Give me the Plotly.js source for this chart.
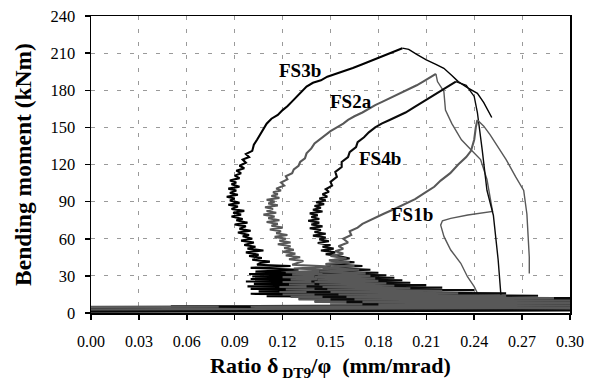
<!DOCTYPE html>
<html>
<head>
<meta charset="utf-8">
<script src="https://cdn.plot.ly/plotly-3.0.1.min.js"></script>
<style>html,body{margin:0;padding:0;background:#fff;}#chart{width:589px;height:391px;}</style>
</head>
<body>
<div id="chart"></div>
<script>
// ---- Data ----
const xTicks = [0.00,0.03,0.06,0.09,0.12,0.15,0.18,0.21,0.24,0.27,0.30];
const yTicks = [0,30,60,90,120,150,180,210,240];

const seriesNames = ["FS3b","FS2a","FS4b","FS1b"];

const fs3bX = [0.000,0.300,0.000,0.300,0.050,0.300,0.160,0.300,0.140,0.300,0.130,0.240,0.110,0.220,0.100,0.200,0.105,0.190,0.100,0.180,0.098,0.170,0.102,0.165,0.097,0.155,0.100,0.150,0.101,0.145,0.099,0.138,0.103,0.130,0.100,0.125,0.104,
  0.106,0.112,0.101,0.107,0.099,0.105,0.097,0.108,0.098,0.103,0.096,0.102,0.094,0.101,0.095,0.099,0.092,0.100,0.093,0.097,0.090,0.098,0.091,0.095,0.088,0.094,0.089,0.096,0.088,0.092,0.086,0.093,0.087,0.090,0.085,0.092,0.087,0.091,0.086,0.093,0.088,0.091,0.087,0.093,0.090,0.094,0.091,0.096,0.093,0.097,0.095,0.099,0.097,
  0.101,0.102,0.104,0.107,0.110,0.113,0.117,0.120,0.123,0.126,0.129,0.132,0.135,0.139,0.144,0.148,0.153,0.158,0.164,0.170,0.176,0.183,0.189,0.195,
  0.199,0.204,0.210,0.216,0.221,0.226,0.230,0.236,0.242,0.246,0.249,0.251];
const fs3bY = [1.5,2.5,3.5,4.5,5.5,6.5,7.5,8.5,9.5,10.5,11.5,12.5,13.5,14.5,15.5,16.5,17.5,18.5,19.5,20.5,21.5,22.5,23.5,24.5,25.5,26.5,27.5,28.5,29.5,30.5,31.5,32.5,33.5,35,36.5,38,39,
  40.4,41.5,43,44.5,46,47,49,50.5,52,53.5,55,57,58.5,60,62,63,65,66.5,68,70,71.5,73,75,76,78,79.5,81,82.5,84,86,87.5,89,91,92.5,94,95.5,97,99,100.5,102,104,105.5,107,109,111,113,115,117,119,121.5,124,126,128.5,
  131,136,140,146,153,157,160,164,167,171,175,179,183,186,188,191,193,195,198,201,204,208,211,214,
  213,209,204.5,201,197.7,192,187,182,177.5,170,163,158];

const fs2aX = [0.000,0.300,0.000,0.107,0.300,0.150,0.300,0.140,0.300,0.130,0.270,0.125,0.240,0.120,0.230,0.118,0.210,0.122,0.200,0.118,0.190,0.124,0.185,0.120,0.178,0.125,0.170,0.120,0.165,0.126,0.160,0.122,0.155,0.127,0.150,0.126,
  0.133,0.124,0.131,0.122,0.128,0.120,0.127,0.121,0.125,0.117,0.125,0.118,0.122,0.115,0.123,0.116,0.119,0.112,0.120,0.113,0.117,0.110,0.118,0.111,0.115,0.108,0.116,0.110,0.114,0.109,0.117,0.111,0.115,0.110,0.118,0.113,0.117,0.114,0.119,0.116,0.121,0.119,0.123,0.122,0.126,
  0.127,0.130,0.131,0.134,0.135,0.138,0.140,0.144,0.147,0.150,0.154,0.158,0.161,0.165,0.170,0.174,0.178,0.183,0.188,0.194,0.199,0.204,0.208,0.212,0.214,0.216,
  0.217,0.221,0.222,0.226,0.232,0.238,0.244,0.248,0.2515,0.236,0.2253,0.2201,0.219,0.2211,0.2253,0.2316,0.2358,0.2400,0.2431,0.2450];
const fs2aY = [2,3,5,5.2,6,7,8,9,10,11,12,13,14,15,16,17,18,19,20,21,22,23,24,25,26,27,28,29,30,31,32,33,34.5,36,37.5,39,
  42,43.5,45,46.5,48,49.5,51,52.5,54,55.5,57,58.5,60,61.5,63,64.5,66,67.5,69,70.5,72,73.5,75,76.5,78,79.5,81,82.5,84,85.5,87,88.5,90,91.5,93,94.5,96,97.5,99,100.5,103,105.5,108,110.5,113,
  116,119,122,125,129,133,137,141,144,147,150,153,156,159,162,165,168,171,174,178,181,184,187,190,192,193.2,
  187,179,164,153,140,132,124,108,82,79.2,76.5,74.5,71,61.7,50.9,40.2,29.3,21.3,13.2,6.5];

const fs4bX = [0.000,0.300,0.000,0.300,0.080,0.300,0.170,0.300,0.160,0.300,0.150,0.300,0.145,0.280,0.140,0.260,0.135,0.240,0.140,0.220,0.135,0.210,0.140,0.200,0.138,0.195,0.142,0.190,0.140,0.185,0.145,0.180,0.143,0.175,0.148,0.170,0.147,0.165,0.150,0.162,
  0.155,0.147,0.153,0.144,0.152,0.145,0.150,0.142,0.149,0.143,0.147,0.139,0.147,0.140,0.144,0.137,0.145,0.138,0.143,0.136,0.143,0.138,0.142,0.137,0.145,0.139,0.144,0.140,0.146,0.141,0.147,0.143,0.148,0.145,0.149,0.147,0.151,0.150,
  0.154,0.153,0.157,0.157,0.161,0.162,0.166,0.167,0.171,0.174,0.178,0.182,0.187,0.192,0.197,0.202,0.207,0.212,0.217,0.222,0.226,0.2285,
  0.232,0.235,0.240,0.242,0.245,0.248,0.252,0.255,0.257,0.257];
const fs4bY = [1,2,3,4,5,6,7,8,9,10,11,12,13,14,15,16,17,18.5,19.5,20.5,21.5,22.5,23.5,24.5,25.5,26.5,27.5,28.5,29.5,30.5,31.5,32.5,33.5,35,36.5,38,39.5,41,42.5,44,
  46,47.5,49,50.5,52,53.5,55,56.5,58,59.5,61,62.5,64,65.5,67,68.5,70,71.5,73,74.5,76,77.5,79,80.5,82,83.5,85,86.5,88,89.5,91,92.5,94,96,98,100,103,106,
  110,114,118,122,126,130,134,138,142,146,150,153,156,159,162,166,170,174,178,182,185,187,
  185.5,184,175,162,132,99,79,43,10,4];

const fs1bX = [0.000,0.300,0.100,0.300,0.180,0.300,0.170,0.300,0.165,0.290,0.160,0.260,0.155,0.230,0.150,0.220,0.148,0.200,0.145,0.190,0.143,0.185,0.140,0.180,0.142,0.178,0.140,0.175,0.142,0.172,0.143,0.168,0.145,0.165,0.147,0.162,0.149,0.160,0.150,0.158,0.153,0.158,0.155,0.161,0.158,0.163,0.162,0.167,
  0.170,0.176,0.183,0.190,0.197,0.203,0.209,0.215,0.219,0.225,0.230,0.235,0.238,0.240,0.241,0.242,
  0.246,0.250,0.255,0.260,0.266,0.271,0.273,0.274,0.2745,0.2745];
const fs1bY = [3,4,5,6,7,8,9,10,11,12,13,14,15,16,17,18,19,20,21,22,23,24,25,26,27,28,29,30,31,32,33.5,35,36.5,38,39.5,41,42.5,44,46,48,50,52,54,57,60,63,66,69,
  72,76,80,84,88,92,97,102,107,113,120,126,131,140,150,156,
  151,144,134,124,110,99,80,60,45,32];

const seriesX = [fs3bX, fs2aX, fs4bX, fs1bX];
const seriesY = [fs3bY, fs2aY, fs4bY, fs1bY];
const seriesColors = ["#000000","#585858","#0a0a0a","#585858"];

// label positions (data coordinates)
const labelX = [0.131, 0.163, 0.181, 0.201];
const labelY = [196, 171, 125, 80];

// each series: loading branch (thick, up to its peak) and post-peak branch (thin)
const traces = [];
seriesNames.forEach((n, i) => {
  const ys = seriesY[i];
  let pk = 0;
  ys.forEach((v, k) => { if (v > ys[pk]) pk = k; });
  traces.push({
    type: "scatter", mode: "lines", name: n,
    x: seriesX[i].slice(0, pk + 1), y: ys.slice(0, pk + 1),
    line: {color: seriesColors[i], width: 2.1},
    showlegend: false, hoverinfo: "skip"
  });
  traces.push({
    type: "scatter", mode: "lines", name: n + " post-peak",
    x: seriesX[i].slice(pk), y: ys.slice(pk),
    line: {color: seriesColors[i], width: 1.4},
    showlegend: false, hoverinfo: "skip"
  });
});

const serif = "'Liberation Serif', 'Times New Roman', serif";
const annotations = seriesNames.map((n, i) => ({
  x: labelX[i], y: labelY[i], xref: "x", yref: "y",
  text: "<b>" + n + "</b>", showarrow: false,
  font: {family: serif, size: 19, color: "#000"}
}));

const layout = {
  width: 589, height: 391,
  margin: {l: 91, r: 19, t: 16, b: 78},
  paper_bgcolor: "#fff", plot_bgcolor: "#fff",
  showlegend: false,
  xaxis: {
    range: [0, 0.30], tickvals: xTicks, ticktext: xTicks.map(v => v.toFixed(2)),
    showgrid: true, gridcolor: "#9a9a9a", gridwidth: 1, griddash: "4px,9px",
    showline: true, linecolor: "#000", linewidth: 1.5, mirror: true,
    ticks: "outside", ticklen: 5, tickcolor: "#000", tickwidth: 1.5,
    ticklabelstandoff: 8,
    zeroline: false,
    tickfont: {family: serif, size: 16, color: "#000"},
    title: {text: "<b>Ratio δ<sub> DT9</sub>/φ  (mm/mrad)</b>", font: {family: serif, size: 22, color: "#000"}, standoff: 9}
  },
  yaxis: {
    range: [0, 240], tickvals: yTicks,
    showgrid: true, gridcolor: "#9a9a9a", gridwidth: 1, griddash: "4px,9px",
    showline: true, linecolor: "#000", linewidth: 1.5, mirror: true,
    ticks: "outside", ticklen: 5, tickcolor: "#000", tickwidth: 1.5,
    ticklabelstandoff: 6,
    zeroline: false,
    tickfont: {family: serif, size: 16.5, color: "#000"},
    title: {text: "<b>Bending moment (kNm)</b>", font: {family: serif, size: 23.5, color: "#000"}, standoff: 12}
  },
  annotations: annotations
};

Plotly.newPlot("chart", traces, layout, {displayModeBar: false, staticPlot: true});
</script>
</body>
</html>
